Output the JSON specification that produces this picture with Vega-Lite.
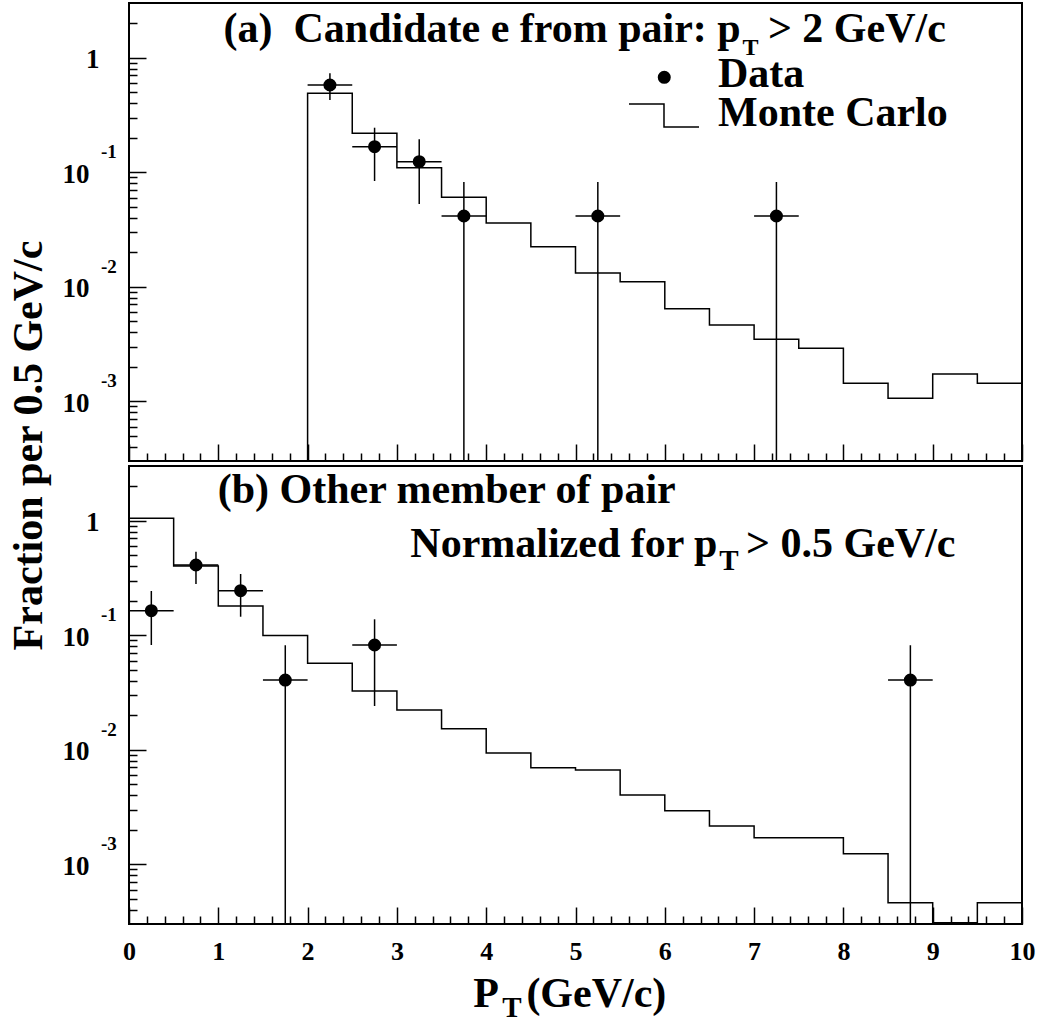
{
  "$schema": "https://vega.github.io/schema/vega-lite/v6.json",
  "padding": {"left": 6, "top": 2, "right": 0, "bottom": 0},
  "bounds": "flush",
  "spacing": 5,
  "background": "white",
  "config": {
    "view": {"stroke": "black", "strokeWidth": 2},
    "axis": {"domain": false, "grid": false, "tickColor": "black", "tickWidth": 1.5, "labelColor": "black", "labelFont": "Liberation Serif", "labelFontWeight": "bold", "titleFont": "Liberation Serif", "titleFontWeight": "bold", "titleColor": "black", "labelOverlap": false, "labelFlush": false}
  },
  "datasets": {
    "mcA": [
      {"i": 0, "x": 2, "y": 0.000001}, {"i": 1, "x": 2, "y": 0.488}, {"i": 2, "x": 2.5, "y": 0.2183}, {"i": 3, "x": 3, "y": 0.1093},
      {"i": 4, "x": 3.5, "y": 0.0603}, {"i": 5, "x": 4, "y": 0.03594}, {"i": 6, "x": 4.5, "y": 0.02232}, {"i": 7, "x": 5, "y": 0.01315},
      {"i": 8, "x": 5.5, "y": 0.01104}, {"i": 9, "x": 6, "y": 0.00641}, {"i": 10, "x": 6.5, "y": 0.00462}, {"i": 11, "x": 7, "y": 0.003467},
      {"i": 12, "x": 7.5, "y": 0.002893}, {"i": 13, "x": 8, "y": 0.001431}, {"i": 14, "x": 8.5, "y": 0.001058}, {"i": 15, "x": 9, "y": 0.001725},
      {"i": 16, "x": 9.5, "y": 0.001431}, {"i": 17, "x": 10, "y": 0.001431}
    ],
    "ptsA": [
      {"x": 2.25, "xlo": 2.0, "xhi": 2.5, "y": 0.5767, "lo": 0.4265, "hi": 0.7296},
      {"x": 2.75, "xlo": 2.5, "xhi": 3.0, "y": 0.1668, "lo": 0.0837, "hi": 0.2443},
      {"x": 3.25, "xlo": 3.0, "xhi": 3.5, "y": 0.1234, "lo": 0.0527, "hi": 0.1935},
      {"x": 3.75, "xlo": 3.5, "xhi": 4.0, "y": 0.04138, "lo": 0.000001, "hi": 0.082},
      {"x": 5.25, "xlo": 5.0, "xhi": 5.5, "y": 0.04138, "lo": 0.000001, "hi": 0.082},
      {"x": 7.25, "xlo": 7.0, "xhi": 7.5, "y": 0.04138, "lo": 0.000001, "hi": 0.082}
    ],
    "legLine": [
      {"i": 0, "x": 5.599, "y": 0.3936}, {"i": 1, "x": 5.991, "y": 0.3936}, {"i": 2, "x": 5.991, "y": 0.2477}, {"i": 3, "x": 6.383, "y": 0.2477}
    ],
    "legDot": [{"x": 5.994, "y": 0.6733}],
    "txtARight": [{"x": 6.85, "y": 1.369, "t": "(a)\u00a0 Candidate e from pair: p"}],
    "txtASub": [{"x": 6.87, "y": 1.054, "t": "T"}],
    "txtALeft": [
      {"x": 7.155, "y": 1.369, "t": "> 2 GeV/c"},
      {"x": 6.596, "y": 0.551, "t": "Data"},
      {"x": 6.596, "y": 0.253, "t": "Monte Carlo"}
    ],
    "expo": [
      {"x": -0.3135, "y": 0.132, "t": "-1"},
      {"x": -0.3135, "y": 0.0132, "t": "-2"},
      {"x": -0.3135, "y": 0.00132, "t": "-3"}
    ],
    "mcB": [
      {"i": 0, "x": 0, "y": 1.048}, {"i": 1, "x": 0.5, "y": 0.4016}, {"i": 2, "x": 1, "y": 0.1797}, {"i": 3, "x": 1.5, "y": 0.0993},
      {"i": 4, "x": 2, "y": 0.05675}, {"i": 5, "x": 2.5, "y": 0.03251}, {"i": 6, "x": 3, "y": 0.02218}, {"i": 7, "x": 3.5, "y": 0.01523},
      {"i": 8, "x": 4, "y": 0.00934}, {"i": 9, "x": 4.5, "y": 0.006955}, {"i": 10, "x": 5, "y": 0.006641}, {"i": 11, "x": 5.5, "y": 0.004016},
      {"i": 12, "x": 6, "y": 0.002928}, {"i": 13, "x": 6.5, "y": 0.002153}, {"i": 14, "x": 7, "y": 0.001701}, {"i": 15, "x": 7.5, "y": 0.001701},
      {"i": 16, "x": 8, "y": 0.001234}, {"i": 17, "x": 8.5, "y": 0.00046}, {"i": 18, "x": 9, "y": 0.000308}, {"i": 19, "x": 9.5, "y": 0.00046},
      {"i": 20, "x": 10, "y": 0.00046}
    ],
    "ptsB": [
      {"x": 0.25, "xlo": 0.0, "xhi": 0.5, "y": 0.1634, "lo": 0.082, "hi": 0.2428},
      {"x": 0.75, "xlo": 0.5, "xhi": 1.0, "y": 0.4098, "lo": 0.2796, "hi": 0.5354},
      {"x": 1.25, "xlo": 1.0, "xhi": 1.5, "y": 0.2443, "lo": 0.1448, "hi": 0.3419},
      {"x": 1.75, "xlo": 1.5, "xhi": 2.0, "y": 0.04055, "lo": 0.000001, "hi": 0.0815},
      {"x": 2.75, "xlo": 2.5, "xhi": 3.0, "y": 0.082, "lo": 0.02404, "hi": 0.1375},
      {"x": 8.75, "xlo": 8.5, "xhi": 9.0, "y": 0.04055, "lo": 0.000001, "hi": 0.0815}
    ],
    "txtBLeft": [
      {"x": 0.993, "y": 1.426, "t": "(b) Other member of pair"},
      {"x": 6.91, "y": 0.4842, "t": "> 0.5 GeV/c"},
      {"x": 4.45, "y": 0.0000565, "t": "(GeV/c)"}
    ],
    "txtBRight": [
      {"x": 6.59, "y": 0.4842, "t": "Normalized for p"},
      {"x": 4.142, "y": 0.0000565, "t": "P"}
    ],
    "txtBSub": [
      {"x": 6.61, "y": 0.3705, "t": "T"},
      {"x": 4.18, "y": 0.0000465, "t": "T"}
    ]
  },
  "vconcat": [
    {
      "width": 893,
      "height": 458,
      "layer": [
        {
          "data": {"name": "mcA"},
          "mark": {"type": "line", "interpolate": "step-after", "color": "black", "strokeWidth": 1.5, "clip": true},
          "encoding": {
            "x": {"field": "x", "type": "quantitative", "scale": {"domain": [0, 10], "nice": false, "zero": false},
              "axis": {"values": [0,0.2,0.4,0.6,0.8,1,1.2,1.4,1.6,1.8,2,2.2,2.4,2.6,2.8,3,3.2,3.4,3.6,3.8,4,4.2,4.4,4.6,4.8,5,5.2,5.4,5.6,5.8,6,6.2,6.4,6.6,6.8,7,7.2,7.4,7.6,7.8,8,8.2,8.4,8.6,8.8,9,9.2,9.4,9.6,9.8,10],
                "tickCount": 200,
                "tickSize": {"expr": "abs(datum.value - round(datum.value)) < 0.01 ? -17 : -8"}, "labels": false, "labelOverlap": false, "title": null}},
            "y": {"field": "y", "type": "quantitative", "scale": {"type": "log", "domain": [0.0003, 3], "nice": false},
              "axis": {"values": [0.0004,0.0005,0.0006,0.0007,0.0008,0.0009,0.001,0.002,0.003,0.004,0.005,0.006,0.007,0.008,0.009,0.01,0.02,0.03,0.04,0.05,0.06,0.07,0.08,0.09,0.1,0.2,0.3,0.4,0.5,0.6,0.7,0.8,0.9,1,2],
                "tickCount": 200,
                "tickSize": {"expr": "abs(log(datum.value)/LN10 - round(log(datum.value)/LN10)) < 0.01 ? -17 : -8"},
                "labelExpr": "abs(log(datum.value)/LN10 - round(log(datum.value)/LN10)) < 0.01 ? (datum.value > 0.5 ? '1' : '10') : ''",
                "labelFontSize": 27, "labelAlign": "right", "labelBaseline": "middle", "labelOffset": 2, "labelOverlap": false,
                "labelPadding": {"expr": "datum.value > 0.5 ? 47 : 57"},
                "title": "Fraction per 0.5 GeV/c", "titleFontSize": 42, "titleAngle": -90, "titleX": -88, "titleY": 442,
                "titleAlign": "center", "titleBaseline": "alphabetic"}},
            "order": {"field": "i", "type": "quantitative"}
          }
        },
        {
          "data": {"name": "ptsA"},
          "mark": {"type": "rule", "color": "black", "strokeWidth": 1.5, "clip": true},
          "encoding": {
            "x": {"field": "x", "type": "quantitative", "title": null},
            "y": {"field": "lo", "type": "quantitative"},
            "y2": {"field": "hi"}
          }
        },
        {
          "data": {"name": "ptsA"},
          "mark": {"type": "rule", "color": "black", "strokeWidth": 1.5},
          "encoding": {
            "x": {"field": "xlo", "type": "quantitative", "title": null},
            "x2": {"field": "xhi"},
            "y": {"field": "y", "type": "quantitative"}
          }
        },
        {
          "data": {"name": "ptsA"},
          "mark": {"type": "point", "shape": "circle", "filled": true, "size": 170, "color": "black", "opacity": 1},
          "encoding": {
            "x": {"field": "x", "type": "quantitative", "title": null},
            "y": {"field": "y", "type": "quantitative"}
          }
        },
        {
          "data": {"name": "legLine"},
          "mark": {"type": "line", "color": "black", "strokeWidth": 1.5},
          "encoding": {
            "x": {"field": "x", "type": "quantitative", "title": null},
            "y": {"field": "y", "type": "quantitative"},
            "order": {"field": "i", "type": "quantitative"}
          }
        },
        {
          "data": {"name": "legDot"},
          "mark": {"type": "point", "shape": "circle", "filled": true, "size": 170, "color": "black", "opacity": 1},
          "encoding": {
            "x": {"field": "x", "type": "quantitative", "title": null},
            "y": {"field": "y", "type": "quantitative"}
          }
        },
        {
          "data": {"name": "txtARight"},
          "mark": {"type": "text", "align": "right", "baseline": "alphabetic", "font": "Liberation Serif", "fontWeight": "bold", "fontSize": 42, "color": "black"},
          "encoding": {
            "x": {"field": "x", "type": "quantitative", "title": null},
            "y": {"field": "y", "type": "quantitative"},
            "text": {"field": "t"}
          }
        },
        {
          "data": {"name": "txtASub"},
          "mark": {"type": "text", "align": "left", "baseline": "alphabetic", "font": "Liberation Serif", "fontWeight": "bold", "fontSize": 24, "color": "black"},
          "encoding": {
            "x": {"field": "x", "type": "quantitative", "title": null},
            "y": {"field": "y", "type": "quantitative"},
            "text": {"field": "t"}
          }
        },
        {
          "data": {"name": "txtALeft"},
          "mark": {"type": "text", "align": "left", "baseline": "alphabetic", "font": "Liberation Serif", "fontWeight": "bold", "fontSize": 42, "color": "black"},
          "encoding": {
            "x": {"field": "x", "type": "quantitative", "title": null},
            "y": {"field": "y", "type": "quantitative"},
            "text": {"field": "t"}
          }
        },
        {
          "data": {"name": "expo"},
          "mark": {"type": "text", "align": "left", "baseline": "alphabetic", "font": "Liberation Serif", "fontWeight": "bold", "fontSize": 19, "color": "black"},
          "encoding": {
            "x": {"field": "x", "type": "quantitative", "title": null},
            "y": {"field": "y", "type": "quantitative"},
            "text": {"field": "t"}
          }
        }
      ]
    },
    {
      "width": 893,
      "height": 458,
      "layer": [
        {
          "data": {"name": "mcB"},
          "mark": {"type": "line", "interpolate": "step-after", "color": "black", "strokeWidth": 1.5, "clip": true},
          "encoding": {
            "x": {"field": "x", "type": "quantitative", "scale": {"domain": [0, 10], "nice": false, "zero": false},
              "axis": {"values": [0,0.2,0.4,0.6,0.8,1,1.2,1.4,1.6,1.8,2,2.2,2.4,2.6,2.8,3,3.2,3.4,3.6,3.8,4,4.2,4.4,4.6,4.8,5,5.2,5.4,5.6,5.8,6,6.2,6.4,6.6,6.8,7,7.2,7.4,7.6,7.8,8,8.2,8.4,8.6,8.8,9,9.2,9.4,9.6,9.8,10],
                "tickCount": 200,
                "tickSize": {"expr": "abs(datum.value - round(datum.value)) < 0.01 ? -17 : -8"},
                "labelExpr": "abs(datum.value - round(datum.value)) < 0.01 ? format(round(datum.value), 'd') : ''",
                "labelFontSize": 26, "labelBaseline": "top", "labelAlign": "center", "labelPadding": 31, "labelOverlap": false, "title": null}},
            "y": {"field": "y", "type": "quantitative", "scale": {"type": "log", "domain": [0.0003, 3], "nice": false},
              "axis": {"values": [0.0004,0.0005,0.0006,0.0007,0.0008,0.0009,0.001,0.002,0.003,0.004,0.005,0.006,0.007,0.008,0.009,0.01,0.02,0.03,0.04,0.05,0.06,0.07,0.08,0.09,0.1,0.2,0.3,0.4,0.5,0.6,0.7,0.8,0.9,1,2],
                "tickCount": 200,
                "tickSize": {"expr": "abs(log(datum.value)/LN10 - round(log(datum.value)/LN10)) < 0.01 ? -17 : -8"},
                "labelExpr": "abs(log(datum.value)/LN10 - round(log(datum.value)/LN10)) < 0.01 ? (datum.value > 0.5 ? '1' : '10') : ''",
                "labelFontSize": 27, "labelAlign": "right", "labelBaseline": "middle", "labelOffset": 2, "labelOverlap": false,
                "labelPadding": {"expr": "datum.value > 0.5 ? 47 : 57"},
                "title": null}},
            "order": {"field": "i", "type": "quantitative"}
          }
        },
        {
          "data": {"name": "ptsB"},
          "mark": {"type": "rule", "color": "black", "strokeWidth": 1.5, "clip": true},
          "encoding": {
            "x": {"field": "x", "type": "quantitative", "title": null},
            "y": {"field": "lo", "type": "quantitative", "title": null},
            "y2": {"field": "hi"}
          }
        },
        {
          "data": {"name": "ptsB"},
          "mark": {"type": "rule", "color": "black", "strokeWidth": 1.5},
          "encoding": {
            "x": {"field": "xlo", "type": "quantitative", "title": null},
            "x2": {"field": "xhi"},
            "y": {"field": "y", "type": "quantitative", "title": null}
          }
        },
        {
          "data": {"name": "ptsB"},
          "mark": {"type": "point", "shape": "circle", "filled": true, "size": 170, "color": "black", "opacity": 1},
          "encoding": {
            "x": {"field": "x", "type": "quantitative", "title": null},
            "y": {"field": "y", "type": "quantitative", "title": null}
          }
        },
        {
          "data": {"name": "txtBLeft"},
          "mark": {"type": "text", "align": "left", "baseline": "alphabetic", "font": "Liberation Serif", "fontWeight": "bold", "fontSize": 42, "color": "black"},
          "encoding": {
            "x": {"field": "x", "type": "quantitative", "title": null},
            "y": {"field": "y", "type": "quantitative", "title": null},
            "text": {"field": "t"}
          }
        },
        {
          "data": {"name": "txtBRight"},
          "mark": {"type": "text", "align": "right", "baseline": "alphabetic", "font": "Liberation Serif", "fontWeight": "bold", "fontSize": 42, "color": "black"},
          "encoding": {
            "x": {"field": "x", "type": "quantitative", "title": null},
            "y": {"field": "y", "type": "quantitative", "title": null},
            "text": {"field": "t"}
          }
        },
        {
          "data": {"name": "txtBSub"},
          "mark": {"type": "text", "align": "left", "baseline": "alphabetic", "font": "Liberation Serif", "fontWeight": "bold", "fontSize": 29, "color": "black"},
          "encoding": {
            "x": {"field": "x", "type": "quantitative", "title": null},
            "y": {"field": "y", "type": "quantitative", "title": null},
            "text": {"field": "t"}
          }
        },
        {
          "data": {"name": "expo"},
          "mark": {"type": "text", "align": "left", "baseline": "alphabetic", "font": "Liberation Serif", "fontWeight": "bold", "fontSize": 19, "color": "black"},
          "encoding": {
            "x": {"field": "x", "type": "quantitative", "title": null},
            "y": {"field": "y", "type": "quantitative", "title": null},
            "text": {"field": "t"}
          }
        }
      ]
    }
  ]
}
